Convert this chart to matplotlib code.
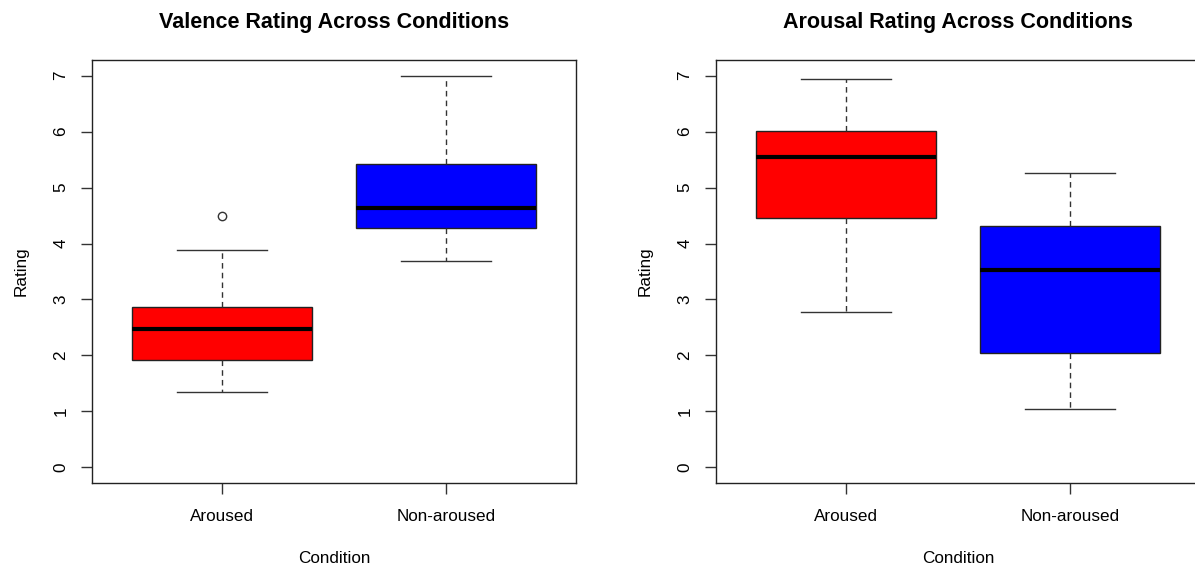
import matplotlib
matplotlib.use("Agg")
import matplotlib.pyplot as plt

plt.rcParams['font.family'] = ['Liberation Sans', 'DejaVu Sans']

categories = ["Aroused", "Non-aroused"]
box_colors = ["#ff0000", "#0000ff"]

# stats: low whisker, Q1, median, Q3, high whisker, outliers
valence_low = [1.35, 3.69]
valence_q1 = [1.92, 4.27]
valence_med = [2.48, 4.64]
valence_q3 = [2.86, 5.42]
valence_high = [3.89, 7.00]
valence_fliers = [[4.49], []]

arousal_low = [2.78, 1.05]
arousal_q1 = [4.45, 2.05]
arousal_med = [5.54, 3.53]
arousal_q3 = [6.01, 4.31]
arousal_high = [6.94, 5.26]
arousal_fliers = [[], []]

yticks = [0, 1, 2, 3, 4, 5, 6, 7]

W, H = 1195, 569
fig = plt.figure(figsize=(W / 100, H / 100), dpi=100)


def make_stats(low, q1, med, q3, high, fliers):
    out = []
    for i in range(len(categories)):
        out.append(dict(whislo=low[i], q1=q1[i], med=med[i], q3=q3[i],
                        whishi=high[i], fliers=fliers[i], label=categories[i]))
    return out


def draw(ax, stats, title):
    bp = ax.bxp(stats, positions=[1, 2], widths=0.8, patch_artist=True,
                showfliers=True,
                boxprops=dict(edgecolor="#222222", linewidth=1.0),
                medianprops=dict(color="black", linewidth=3.0, solid_capstyle="butt"),
                whiskerprops=dict(color="#333333", linewidth=1.0, linestyle=(0, (4, 3))),
                capprops=dict(color="#333333", linewidth=1.0),
                flierprops=dict(marker="o", markerfacecolor="none",
                                markeredgecolor="#333333", markersize=6,
                                markeredgewidth=1.0))
    for patch, c in zip(bp["boxes"], box_colors):
        patch.set_facecolor(c)
    for cap in bp["caps"]:
        x = cap.get_xdata()
        mid = (x[0] + x[1]) / 2
        cap.set_xdata([mid - 0.2, mid + 0.2])
    ax.set_xlim(0.42, 2.58)
    ax.set_ylim(-0.28, 7.28)
    ax.set_yticks(yticks)
    ax.set_yticklabels([str(v) for v in yticks], rotation=90, va="center")
    ax.set_xticks([1, 2])
    ax.set_xticklabels(categories)
    ax.tick_params(axis="both", length=8, width=1.0, color="#333333",
                   labelsize=12.3)
    ax.tick_params(axis="x", pad=10.5)
    ax.tick_params(axis="y", pad=9)
    for s in ax.spines.values():
        s.set_linewidth(1.0)
        s.set_color("#222222")
    ax.set_title(title, fontsize=15.5, fontweight="bold", pad=23)
    ax.set_xlabel("Condition", fontsize=12.3, labelpad=20)
    ax.set_ylabel("Rating", fontsize=12.3, labelpad=18)


ax1 = fig.add_axes([92 / W, 1 - 483 / H, 484 / W, 423 / H])
draw(ax1, make_stats(valence_low, valence_q1, valence_med, valence_q3,
                     valence_high, valence_fliers),
     "Valence Rating Across Conditions")

ax2 = fig.add_axes([716 / W, 1 - 483 / H, 484 / W, 423 / H])
draw(ax2, make_stats(arousal_low, arousal_q1, arousal_med, arousal_q3,
                     arousal_high, arousal_fliers),
     "Arousal Rating Across Conditions")

fig.savefig("out.png", dpi=100)
